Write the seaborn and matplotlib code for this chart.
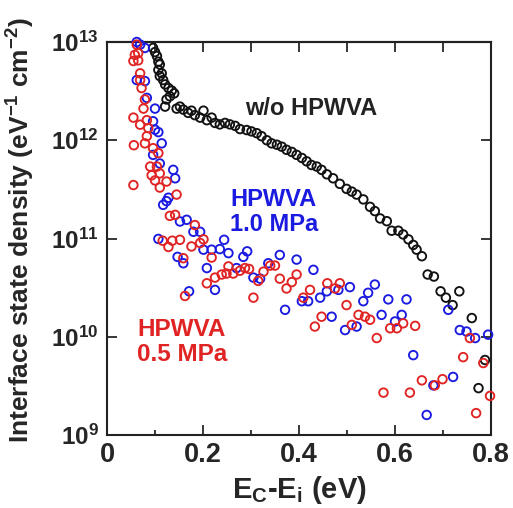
import math
import matplotlib
matplotlib.use("Agg")
import matplotlib.pyplot as plt
import matplotlib.ticker as mticker
import seaborn as sns
import pandas as pd

# ---- data: energy below conduction band (eV) and interface state density (eV^-1 cm^-2)
wo_x = [0.096, 0.100, 0.104, 0.107, 0.110, 0.107, 0.114, 0.110, 0.117, 0.121, 0.128, 0.135,
        0.140, 0.131, 0.124, 0.121, 0.145, 0.152, 0.159, 0.169, 0.176, 0.183, 0.194, 0.201,
        0.208, 0.218, 0.225, 0.235, 0.246, 0.256, 0.267, 0.277, 0.291, 0.301, 0.312, 0.322,
        0.333, 0.343, 0.354, 0.364, 0.374, 0.385, 0.395, 0.406, 0.416, 0.426, 0.437, 0.447,
        0.458, 0.471, 0.485, 0.499, 0.510, 0.520, 0.534, 0.548, 0.558, 0.569, 0.583, 0.593,
        0.607, 0.617, 0.628, 0.638, 0.645, 0.656, 0.668, 0.681, 0.695, 0.706, 0.720, 0.734,
        0.760, 0.7875, 0.774]
wo_y = [8.7e12, 7.9e12, 7.2e12, 6.3e12, 5.9e12, 5.2e12, 4.8e12, 4.5e12, 4.1e12, 3.7e12, 3.4e12, 3.2e12,
        3.0e12, 2.8e12, 2.6e12, 2.2e12, 2.1e12, 2.2e12, 2.05e12, 1.9e12, 2.0e12, 1.8e12, 1.7e12, 2.0e12,
        1.6e12, 1.7e12, 1.5e12, 1.45e12, 1.5e12, 1.45e12, 1.4e12, 1.3e12, 1.27e12, 1.23e12, 1.18e12, 1.1e12,
        1.0e12, 9.3e11, 9.0e11, 8.6e11, 8.0e11, 7.6e11, 7.1e11, 6.6e11, 6.1e11, 5.6e11, 5.4e11, 5.0e11,
        4.5e11, 4.1e11, 3.6e11, 3.2e11, 3.0e11, 2.8e11, 2.5e11, 2.1e11, 1.9e11, 1.6e11, 1.5e11, 1.2e11,
        1.2e11, 1.1e11, 9.8e10, 8.6e10, 7.7e10, 6.6e10, 4.3e10, 4.1e10, 2.9e10, 2.5e10, 2.1e10, 2.9e10,
        1.55e10, 5.8e9, 3.0e9]

hp10_x = [0.062, 0.069, 0.079, 0.062, 0.079, 0.083, 0.100, 0.096, 0.100, 0.107, 0.114, 0.096,
          0.110, 0.138, 0.142, 0.128, 0.124, 0.117, 0.152, 0.166, 0.180, 0.194, 0.107, 0.147,
          0.159, 0.171, 0.201, 0.218, 0.235, 0.244, 0.253, 0.208, 0.225, 0.284, 0.292, 0.270,
          0.305, 0.319, 0.336, 0.360, 0.371, 0.395, 0.430, 0.406, 0.419, 0.444, 0.458, 0.468,
          0.482, 0.506, 0.496, 0.520, 0.534, 0.544, 0.558, 0.572, 0.586, 0.600, 0.614, 0.624,
          0.638, 0.666, 0.680, 0.711, 0.721, 0.735, 0.749, 0.767, 0.794]
hp10_y = [1.0e13, 9.4e12, 8.7e12, 4.1e12, 4.0e12, 2.7e12, 2.1e12, 1.56e12, 1.28e12, 1.21e12, 9.3e11, 7.1e11,
          5.8e11, 5.0e11, 4.1e11, 2.6e11, 2.4e11, 2.2e11, 1.49e11, 1.55e11, 1.17e11, 1.17e11, 9.9e10, 6.5e10,
          5.6e10, 2.9e10, 7.7e10, 7.7e10, 7.8e10, 9.7e10, 7.1e10, 5.0e10, 3.0e10, 6.5e10, 7.4e10, 5.0e10,
          4.0e10, 3.9e10, 5.6e10, 6.8e10, 1.88e10, 6.1e10, 4.8e10, 2.3e10, 2.3e10, 2.5e10, 2.9e10, 1.6e10,
          3.0e10, 3.2e10, 1.17e10, 1.27e10, 2.3e10, 2.8e10, 3.4e10, 1.67e10, 2.4e10, 1.43e10, 1.67e10, 2.4e10,
          6.5e9, 1.6e9, 3.2e9, 1.88e10, 3.9e9, 1.17e10, 1.13e10, 9.7e9, 1.05e10]

hp05_x = [0.062, 0.065, 0.058, 0.055, 0.065, 0.069, 0.069, 0.072, 0.079, 0.076, 0.055, 0.069,
          0.083, 0.086, 0.083, 0.056, 0.079, 0.096, 0.107, 0.090, 0.104, 0.093, 0.110, 0.100,
          0.124, 0.110, 0.055, 0.145, 0.131, 0.142, 0.183, 0.116, 0.128, 0.136, 0.152, 0.176,
          0.194, 0.201, 0.218, 0.159, 0.1625, 0.208, 0.225, 0.239, 0.249, 0.253, 0.263, 0.277,
          0.2875, 0.296, 0.305, 0.315, 0.326, 0.340, 0.350, 0.360, 0.374, 0.385, 0.395, 0.409,
          0.423, 0.433, 0.447, 0.459, 0.475, 0.485, 0.499, 0.510, 0.524, 0.5375, 0.548, 0.562,
          0.590, 0.604, 0.617, 0.642, 0.576, 0.631, 0.656, 0.683, 0.699, 0.742, 0.756, 0.784,
          0.769, 0.798]
hp05_y = [9.4e12, 7.7e12, 7.4e12, 6.4e12, 6.5e12, 4.8e12, 4.1e12, 3.4e12, 2.6e12, 2.1e12, 1.7e12, 1.44e12,
          1.6e12, 1.33e12, 1.1e12, 8.9e11, 9.3e11, 8.3e11, 7.4e11, 5.4e11, 5.4e11, 4.4e11, 4.6e11, 3.9e11,
          3.8e11, 3.3e11, 3.5e11, 2.8e11, 1.7e11, 1.74e11, 1.37e11, 9.5e10, 8.2e10, 9.5e10, 9.7e10, 8.3e10,
          9.0e10, 9.8e10, 6.4e10, 6.3e10, 2.6e10, 3.5e10, 4.0e10, 4.3e10, 4.4e10, 5.2e10, 4.4e10, 4.7e10,
          5.0e10, 4.9e10, 2.5e10, 3.7e10, 4.6e10, 5.3e10, 5.3e10, 3.9e10, 3.1e10, 3.6e10, 4.3e10, 2.5e10,
          3.0e10, 1.27e10, 1.6e10, 3.5e10, 3.1e10, 3.5e10, 2.1e10, 1.32e10, 1.67e10, 1.6e10, 1.49e10, 9.7e9,
          1.22e10, 1.22e10, 1.37e10, 1.29e10, 2.7e9, 2.7e9, 3.6e9, 3.2e9, 3.7e9, 6.2e9, 9.7e9, 5.4e9,
          1.67e9, 2.5e9]

x_ticks = [0, 0.2, 0.4, 0.6, 0.8]
x_ticklabels = ["0", "0.2", "0.4", "0.6", "0.8"]
y_ticks = [1e9, 1e10, 1e11, 1e12, 1e13]

sns.set_style("ticks")
plt.rcParams['font.family'] = ['Liberation Sans', 'DejaVu Sans']
plt.rcParams['font.weight'] = 'bold'
plt.rcParams['mathtext.fontset'] = 'custom'
plt.rcParams['mathtext.rm'] = 'Liberation Sans:bold'
plt.rcParams['mathtext.bf'] = 'Liberation Sans:bold'
plt.rcParams['mathtext.it'] = 'Liberation Sans:bold'

fig = plt.figure(figsize=(5.13, 5.08), dpi=100)
ax = fig.add_axes([107/513, 1-435/508, 384/513, 393/508])

series = [(wo_x, wo_y, "#111111"), (hp10_x, hp10_y, "#1a1ae0"), (hp05_x, hp05_y, "#e02424")]
for xs, ys, col in series:
    df = pd.DataFrame({"E": xs, "Dit": ys})
    sns.scatterplot(data=df, x="E", y="Dit", ax=ax, marker="o", s=38,
                    facecolors="none", edgecolor=col, linewidth=1.35, zorder=3, clip_on=False)

ax.set_yscale("log")
ax.set_xlim(0, 0.8)
ax.set_ylim(1e9, 1e13)
ax.set_xticks(x_ticks)
ax.set_xticklabels(x_ticklabels)
ax.xaxis.set_minor_locator(mticker.MultipleLocator(0.1))
ax.set_yticks(y_ticks)
ax.yaxis.set_major_formatter(mticker.FuncFormatter(lambda v, p: r"$\mathbf{10^{%d}}$" % round(math.log10(v))))
ax.yaxis.set_minor_locator(mticker.NullLocator())
ax.tick_params(axis="x", which="major", direction="in", length=7, width=1.3, labelsize=19.5, pad=5)
ax.tick_params(axis="x", which="minor", direction="in", length=3.5, width=1.3)
ax.tick_params(axis="y", which="major", direction="in", length=7, width=1.3, labelsize=17.5, right=True, pad=6)
for sp in ax.spines.values():
    sp.set_linewidth(1.5)
    sp.set_color("#222222")
sec = ax.secondary_xaxis("top")
sec.set_xticks([0.1, 0.2, 0.3, 0.4, 0.5, 0.6, 0.7])
sec.tick_params(direction="in", length=7, width=1.3, labeltop=False)
sec.spines["top"].set_linewidth(1.5)

ax.set_xlabel(r"E$_\mathrm{C}$-E$_\mathrm{i}$ (eV)", fontsize=21, fontweight="bold", labelpad=4)
ax.set_ylabel(r"Interface state density (eV$^{-1}$ cm$^{-2}$)", fontsize=19, fontweight="bold")
ax.yaxis.set_label_coords((37 - 107) / 384, 1 - (230 - 42) / 393)

ax.text((245-107)/384, 1-(108-42)/393, "w/o HPWVA", transform=ax.transAxes, fontsize=17,
        fontweight="bold", color="#222222", va="center", ha="left")
ax.text((230-107)/384, 1-(212-42)/393, "HPWVA\n1.0 MPa", transform=ax.transAxes, fontsize=17,
        fontweight="bold", color="#1a1ae0", va="center", ha="left", linespacing=1.15)
ax.text((137-107)/384, 1-(342-42)/393, "HPWVA\n0.5 MPa", transform=ax.transAxes, fontsize=17.5,
        fontweight="bold", color="#e02424", va="center", ha="left", linespacing=1.15)

fig.savefig("out.png", dpi=100)
